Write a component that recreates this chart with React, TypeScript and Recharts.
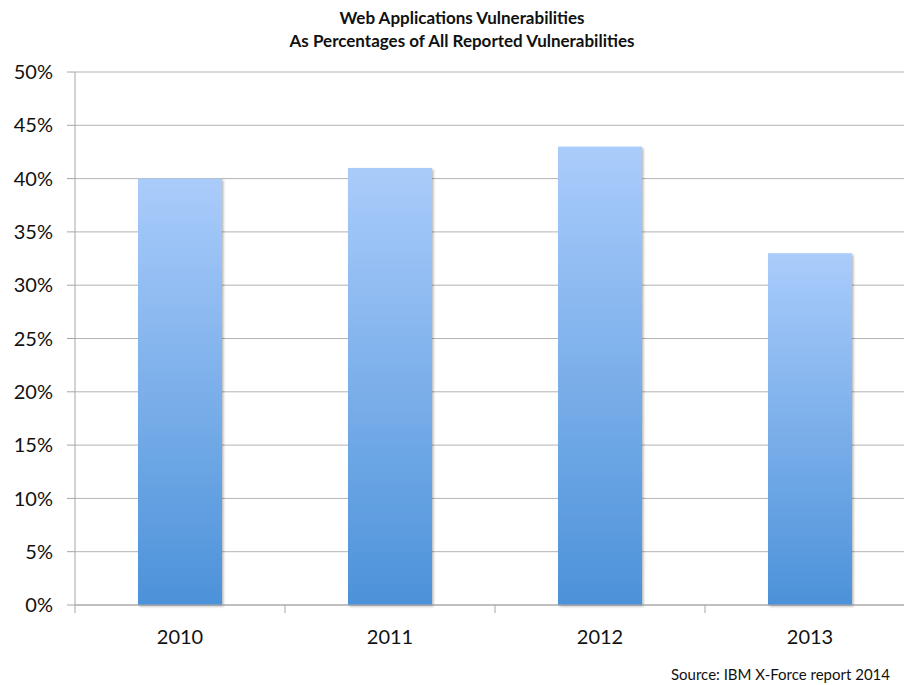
import { Bar, BarChart, CartesianGrid, XAxis, YAxis } from 'recharts';

const years = ['2010', '2011', '2012', '2013'];
const webShare = [40, 41, 43, 33];
const yTicks = [0, 5, 10, 15, 20, 25, 30, 35, 40, 45, 50];

const chartData = years.map((year, i) => ({ year, share: webShare[i] }));

const FONT = 'Lato, "Open Sans", sans-serif';
const CHART_W = 920;
const CHART_H = 685;
const MARGIN = { top: 72, right: 5, left: 0, bottom: 0 };
const Y_AXIS_W = 75;
const STEP = (CHART_W - MARGIN.right - Y_AXIS_W) / years.length;

type TickProps = {
  x?: number;
  y?: number;
  payload?: { value: string };
};

// category label centred under the bar, tick mark on the left category boundary
// (y arrives already pushed down by the default tickSize + tickMargin = 8)
function YearTick({ x = 0, y = 0, payload }: TickProps) {
  const left = x - STEP / 2;
  return (
    <g>
      <line x1={left} x2={left} y1={y - 8} y2={y} stroke="#A6A6A6" strokeWidth={1} />
      <text x={x} y={y + 31} textAnchor="middle" fontSize={20} fill="#111" fontFamily={FONT}>
        {payload?.value}
      </text>
    </g>
  );
}

type ShapeProps = {
  x?: number;
  y?: number;
  width?: number;
  height?: number;
};

function ShadedBar({ x = 0, y = 0, width = 0, height = 0 }: ShapeProps) {
  return (
    <rect
      x={x}
      y={y}
      width={width}
      height={height}
      fill="url(#barFade)"
      filter="url(#barShadow)"
    />
  );
}

export default function App() {
  return (
    <div
      style={{
        position: 'absolute',
        left: 0,
        top: 0,
        width: 904,
        height: 685,
        overflow: 'hidden',
        background: '#fff',
        fontFamily: FONT
      }}
    >
      <div
        style={{
          position: 'absolute',
          left: 212,
          width: 500,
          top: 6,
          textAlign: 'center',
          fontWeight: 700,
          fontSize: 17,
          lineHeight: '23px',
          color: '#111'
        }}
      >
        Web Applications Vulnerabilities
        <br />
        As Percentages of All Reported Vulnerabilities
      </div>

      <BarChart width={CHART_W} height={CHART_H} data={chartData} margin={MARGIN} barCategoryGap="30%">
        <defs>
          <linearGradient id="barFade" x1="0" y1="0" x2="0" y2="1">
            <stop offset="0%" stopColor="#AACCFB" />
            <stop offset="100%" stopColor="#4C92D9" />
          </linearGradient>
          <filter id="barShadow" x="-10%" y="-10%" width="130%" height="130%">
            <feDropShadow dx="1.5" dy="1.5" stdDeviation="1.2" floodColor="#000" floodOpacity="0.28" />
          </filter>
        </defs>
        <CartesianGrid vertical={false} stroke="#B3B3B3" strokeWidth={1} />
        <XAxis
          dataKey="year"
          height={80}
          axisLine={{ stroke: '#A6A6A6' }}
          tickLine={false}
          tick={<YearTick />}
          interval={0}
        />
        <YAxis
          domain={[0, 50]}
          ticks={yTicks}
          width={Y_AXIS_W}
          tickFormatter={(v: number) => `${v}%`}
          axisLine={{ stroke: '#A6A6A6' }}
          tickLine={{ stroke: '#A6A6A6' }}
          tickSize={8}
          tickMargin={14}
          tick={{ fontSize: 20, fill: '#111', fontFamily: FONT }}
          interval={0}
        />
        <Bar dataKey="share" shape={<ShadedBar />} isAnimationActive={false} />
      </BarChart>

      <div
        style={{
          position: 'absolute',
          right: 14,
          top: 665,
          fontSize: 15,
          color: '#111'
        }}
      >
        Source: IBM X-Force report 2014
      </div>
    </div>
  );
}
